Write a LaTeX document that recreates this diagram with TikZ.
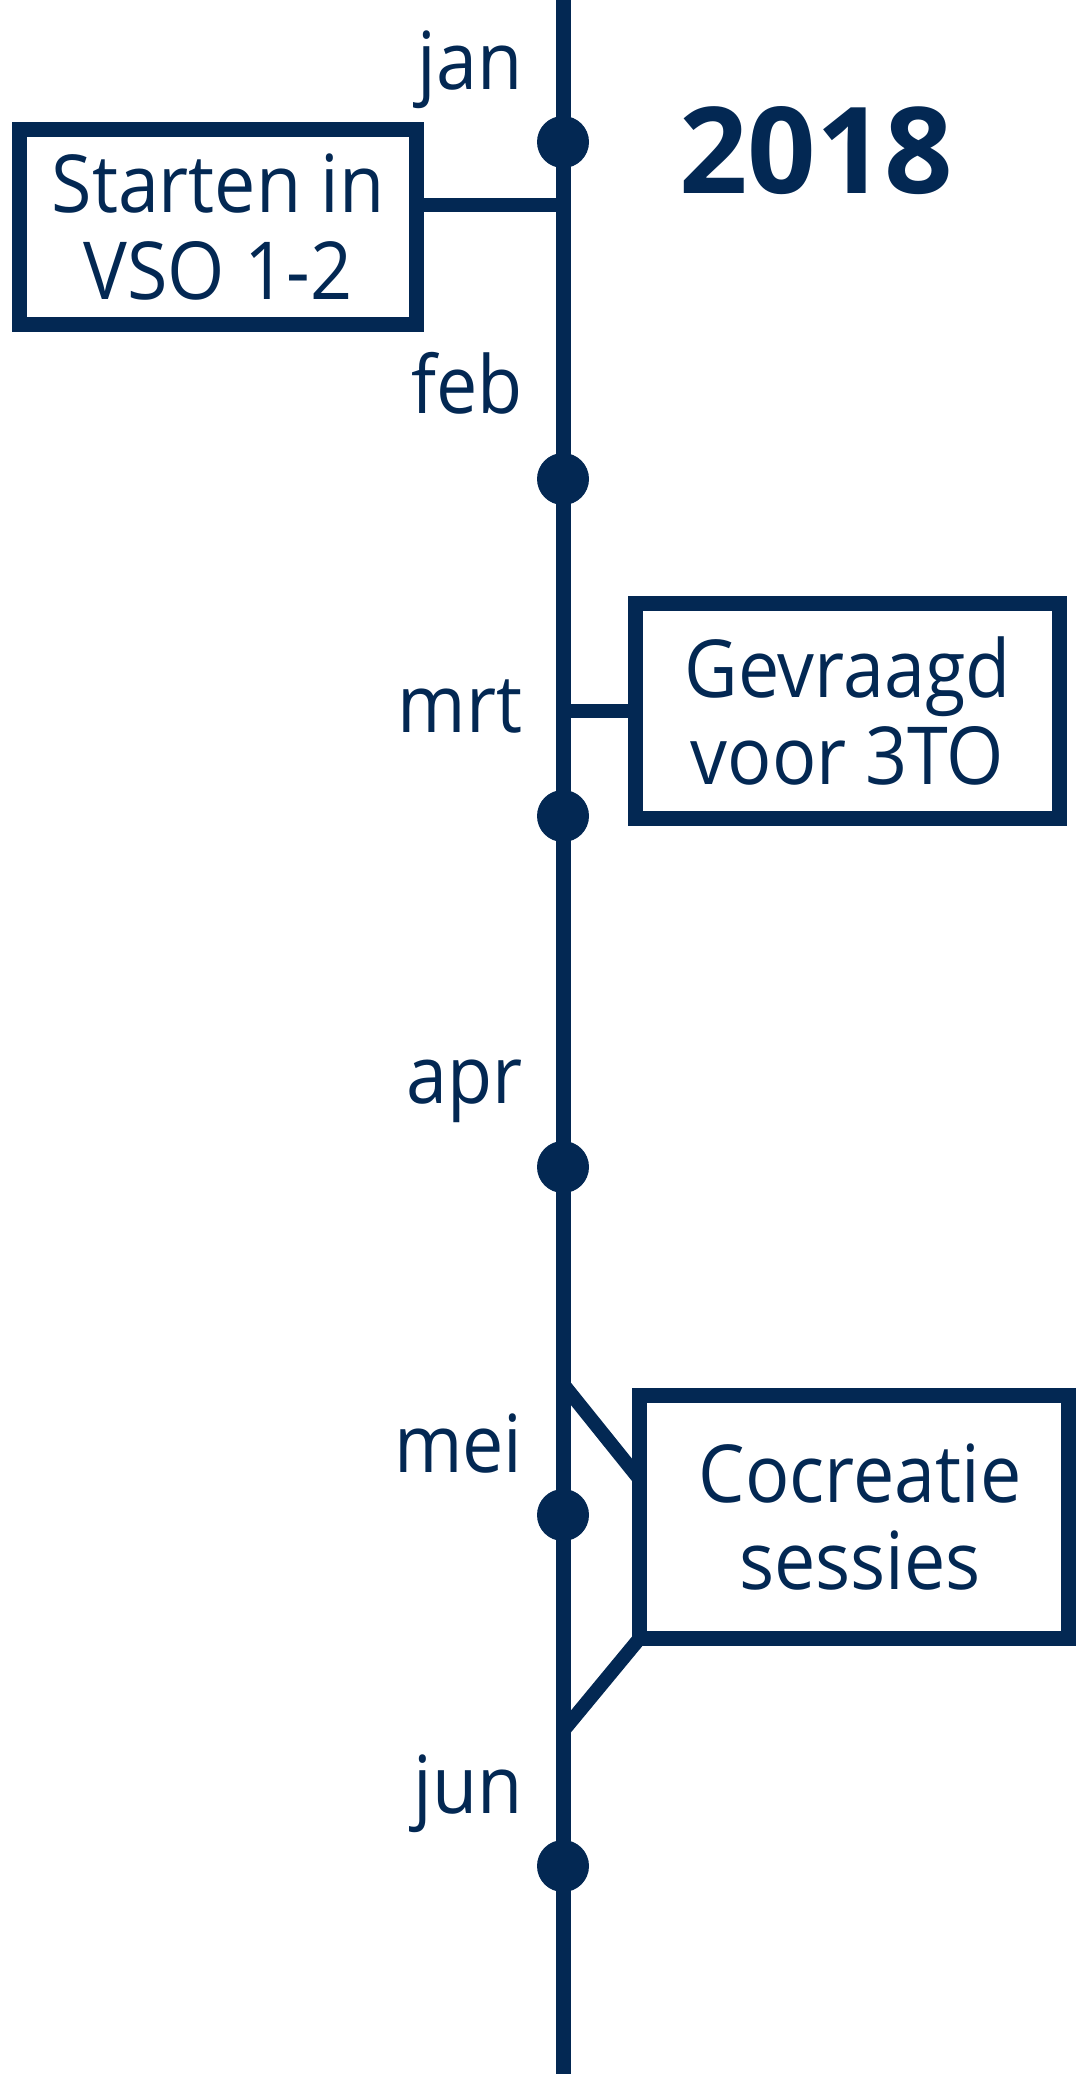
\documentclass[tikz,border=0pt]{standalone}
\usepackage{fontspec}
\setmainfont{Open Sans}[FakeStretch=0.92]
\newfontfamily\yearfont{Open Sans}
\definecolor{navy}{HTML}{032853}
\tikzset{
	box/.style={draw=navy, line width=15pt, outer sep=0pt, inner sep=0pt,
		align=center, text=navy, font=\fontsize{80}{87}\selectfont},
	month/.style={anchor=base east, text=navy, font=\fontsize{80}{96}\selectfont},
	dot/.style={circle, fill=navy, minimum size=52pt, inner sep=0pt},
	link/.style={draw=navy, line width=14pt}
}
\begin{document}
\begin{tikzpicture}[x=1pt,y=-1pt]
		\useasboundingbox (0,0) rectangle (1080,2074);
		\coordinate (top) at (563,0);
		\coordinate (bottom) at (563,2074);
		\draw[navy, line width=15pt] (top)--(bottom);

		\node at (526,90)(jan)[month]{jan};
		\node at (526,413)(feb)[month]{feb};
		\node at (526,732)(mrt)[month]{mrt};
		\node at (526,1103)(apr)[month]{apr};
		\node at (526,1472)(mei)[month]{mei};
		\node at (526,1813)(jun)[month]{jun};

		\node at (816,193)(year)[anchor=base, text=navy,
			font=\yearfont\fontsize{120}{130}\selectfont\bfseries]{2018};

		\node at (218,227)(start)[box, minimum width=397pt, minimum height=195pt]
			{Starten in\\VSO 1-2};
		\node at (847.5,711)(ask)[box, minimum width=424pt, minimum height=215pt]
			{Gevraagd\\voor 3TO};
		\node at (854,1517)(cocreatie)[box, minimum width=429pt, minimum height=243pt]
			{\hspace*{12pt}Cocreatie\\\hspace*{12pt}sessies};

		\coordinate (t1) at (563,204.5);
		\coordinate (m1) at (563,1384);
		\coordinate (m2) at (563,1731);
		\path[link] (t1)--(t1 -| start.east);
		\path[link] (ask.west)--(ask.west -| top);
		\path[link] (m1)--(cocreatie.170);
		\path[link] (cocreatie.south west)--(m2);

		\node at (563,142)(d1)[dot]{};
		\node at (563,479)(d2)[dot]{};
		\node at (563,816)(d3)[dot]{};
		\node at (563,1167)(d4)[dot]{};
		\node at (563,1515)(d5)[dot]{};
		\node at (563,1866)(d6)[dot]{};
	\end{tikzpicture}
\end{document}
